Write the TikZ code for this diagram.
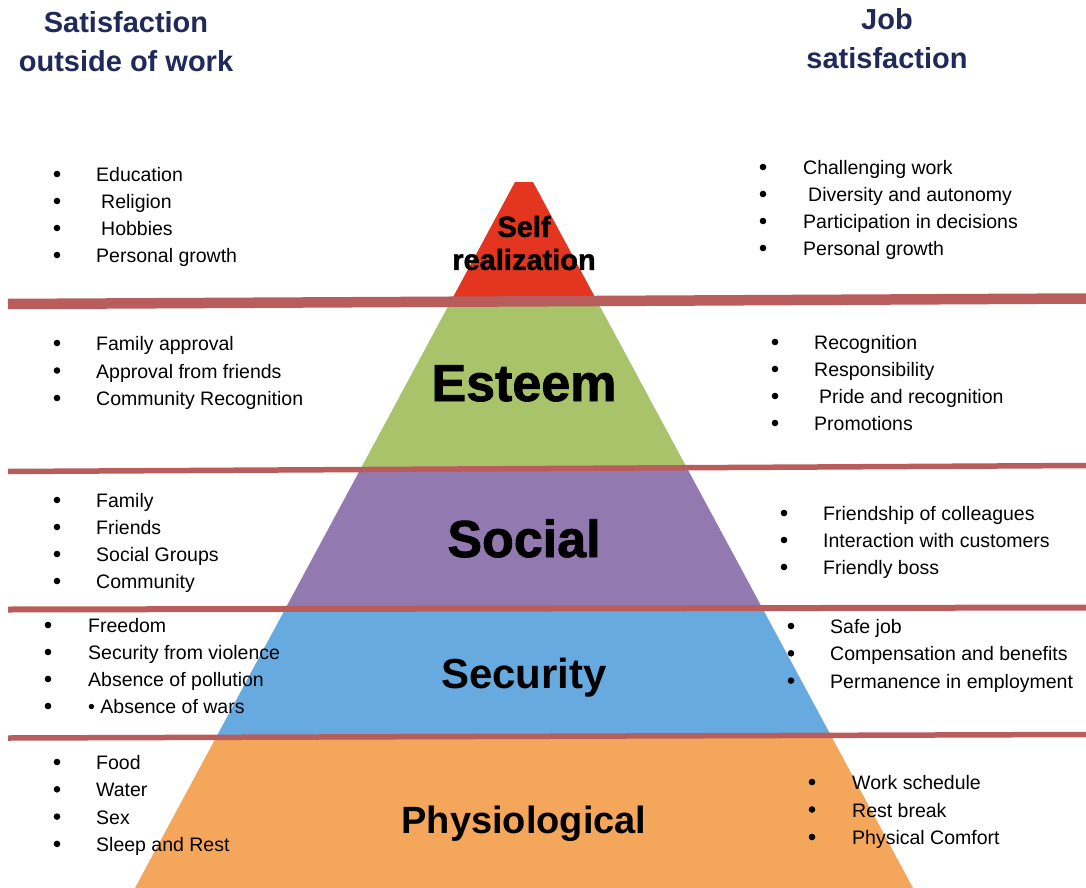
\documentclass[tikz,border=0pt]{standalone}
\usepackage{fontspec}
\setmainfont{Liberation Sans}
\newfontfamily\heavyfont{Liberation Sans}[BoldFeatures={FakeBold=1.6}]
\usetikzlibrary{calc}
\definecolor{navy}{RGB}{32,42,90}
\definecolor{selfred}{RGB}{227,53,31}
\definecolor{esteemgreen}{RGB}{168,195,106}
\definecolor{socialpurple}{RGB}{146,121,176}
\definecolor{securityblue}{RGB}{103,170,223}
\definecolor{physorange}{RGB}{244,166,90}
\definecolor{sepred}{RGB}{185,92,92}

\begin{document}
\begin{tikzpicture}[x=1pt,y=-1pt,
		hdr/.style={font=\bfseries\fontsize{29}{39}\selectfont,text=navy,align=center,inner sep=0pt},
		item/.style={font=\fontsize{19.5}{27}\selectfont,anchor=base west,inner sep=0pt},
		level/.style={anchor=base,inner sep=0pt},
		sepline/.style={draw=sepred,line width=#1}]
		\useasboundingbox (0,0) rectangle (1086,888);
		
		% pyramid
		\coordinate (tl) at (515,182);
		\coordinate (bl) at (135,888);
		\coordinate (tr) at (533,182);
		\coordinate (br) at (913,888);
		\foreach \ya/\yb/\col in {182/301/selfred,301/468/esteemgreen,468/608/socialpurple,608/736/securityblue,736/888/physorange}
			\fill[fill=\col] ($(tl)!{(\ya-182)/706}!(bl)$) -- ($(tl)!{(\yb-182)/706}!(bl)$) -- ($(tr)!{(\yb-182)/706}!(br)$) -- ($(tr)!{(\ya-182)/706}!(br)$) -- cycle;
		
		\draw[sepline=10.5pt] (8,304) -- (1086,298.5);
		\draw[sepline=5.5pt] (8,471.5) -- (1086,465.5);
		\draw[sepline=6pt] (8,609.5) -- (1086,607.5);
		\draw[sepline=5.5pt] (8,738) -- (1086,734.5);
		
		\node[hdr] (outside) at (126,42) {Satisfaction\\outside of work};
		\node[hdr] (job) at (887,39) {Job\\satisfaction};
		
		\node[level,font=\heavyfont\bfseries\fontsize{29}{33}\selectfont,anchor=center,align=center] (self) at (524,243) {Self\\realization};
		\node[level,font=\heavyfont\bfseries\fontsize{52}{52}\selectfont] (esteem) at (524,401) {Esteem};
		\node[level,font=\heavyfont\bfseries\fontsize{52}{52}\selectfont] (social) at (524,557) {Social};
		\node[level,font=\bfseries\fontsize{42}{42}\selectfont] (security) at (524,688) {Security};
		\node[level,font=\bfseries\fontsize{38}{38}\selectfont] (phys) at (524,833) {Physiological};
		
		% outside of work
		\foreach \txt [count=\i] in {Education,\hspace*{5pt}Religion,\hspace*{5pt}Hobbies,Personal growth}{
			\fill (57,{174+27*(\i-1)}) circle (3.3pt);
			\node[item] (outself\i) at (96,{181.5+27*(\i-1)}) {\txt};
		}
		\foreach \txt [count=\i] in {Family approval,Approval from friends,Community Recognition}{
			\fill (57,{343+27.5*(\i-1)}) circle (3.3pt);
			\node[item] (outesteem\i) at (96,{350.5+27.5*(\i-1)}) {\txt};
		}
		\foreach \txt [count=\i] in {Family,Friends,Social Groups,Community}{
			\fill (57,{500+27*(\i-1)}) circle (3.3pt);
			\node[item] (outsocial\i) at (96,{507.5+27*(\i-1)}) {\txt};
		}
		\foreach \txt [count=\i] in {Freedom,Security from violence,Absence of pollution,• Absence of wars}{
			\fill (48,{625+27*(\i-1)}) circle (3.3pt);
			\node[item] (outsecurity\i) at (88,{632+27*(\i-1)}) {\txt};
		}
		\foreach \txt [count=\i] in {Food,Water,Sex,Sleep and Rest}{
			\fill (57,{762+27.3*(\i-1)}) circle (3.3pt);
			\node[item] (outphys\i) at (96,{769.5+27.3*(\i-1)}) {\txt};
		}
		
		% job
		\foreach \txt [count=\i] in {Challenging work,\hspace*{5pt}Diversity and autonomy,Participation in decisions,Personal growth}{
			\fill (763,{167+27*(\i-1)}) circle (3.3pt);
			\node[item] (jobself\i) at (803,{174.5+27*(\i-1)}) {\txt};
		}
		\foreach \txt [count=\i] in {Recognition,Responsibility,\hspace*{5pt}Pride and recognition,Promotions}{
			\fill (775,{342+27*(\i-1)}) circle (3.3pt);
			\node[item] (jobesteem\i) at (814,{349.5+27*(\i-1)}) {\txt};
		}
		\foreach \txt [count=\i] in {Friendship of colleagues,Interaction with customers,Friendly boss}{
			\fill (784,{513+27*(\i-1)}) circle (3.3pt);
			\node[item] (jobsocial\i) at (823,{520.5+27*(\i-1)}) {\txt};
		}
		\foreach \txt [count=\i] in {Safe job,Compensation and benefits,Permanence in employment}{
			\fill (791,{626+27.3*(\i-1)}) circle (3.3pt);
			\node[item] (jobsecurity\i) at (830,{633.5+27.3*(\i-1)}) {\txt};
		}
		\foreach \txt [count=\i] in {Work schedule,Rest break,Physical Comfort}{
			\fill (812,{782+27.5*(\i-1)}) circle (3.3pt);
			\node[item] (jobphys\i) at (852,{789.5+27.5*(\i-1)}) {\txt};
		}
		
\end{tikzpicture}
\end{document}
